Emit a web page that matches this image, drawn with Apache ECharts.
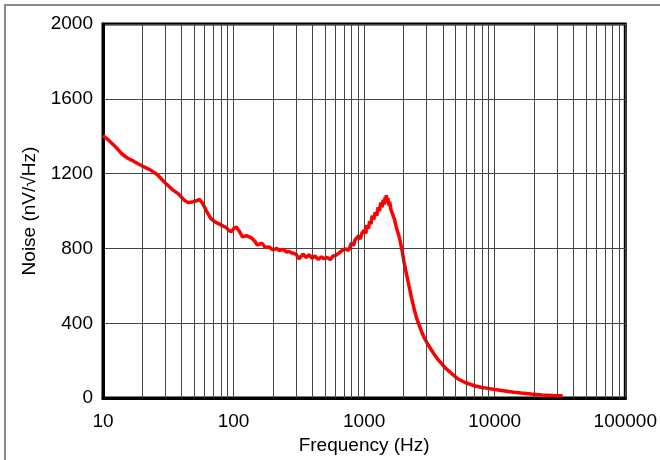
<!DOCTYPE html>
<html>
<head>
<meta charset="utf-8">
<script src="https://cdn.jsdelivr.net/npm/echarts@6/dist/echarts.min.js"></script>
<style>
  html, body { margin: 0; padding: 0; background: #fff; }
  #chart { width: 660px; height: 460px; }
</style>
</head>
<body>
<div id="chart"></div>
<script>
// frequency (Hz) and noise (nV/rtHz)
const freq = [10, 11, 12, 13, 14, 15.5, 17, 20, 23, 26, 30, 34, 38, 42, 45, 48, 52, 55, 58, 62,
  67, 72, 78, 84, 88, 92, 96, 100, 105, 110, 117, 125, 136, 145, 152, 157, 165, 175, 187, 200,
  215, 223, 240, 255, 266, 280, 300, 317, 340, 360, 378, 400, 420, 445, 470, 491, 520, 550, 580, 603,
  640, 680, 719, 760, 800, 830, 850, 880, 908, 935, 960, 1000, 1030, 1050, 1080, 1100, 1130, 1150, 1185, 1216,
  1250, 1280, 1310, 1340, 1370, 1400, 1425, 1449, 1465, 1480, 1500, 1520, 1545, 1570, 1600, 1629, 1700, 1780, 1860, 1942,
  2030, 2120, 2220, 2313, 2420, 2524, 2640, 2755, 2900, 3097, 3400, 3696, 4200, 4700, 5250,
  6000, 7000, 8000, 8890, 10000, 12000, 14000, 15900, 19000, 23000, 28000, 33100];
const noise = [1404, 1380, 1355, 1330, 1305, 1282, 1268, 1241, 1220, 1195, 1150, 1115, 1090, 1058, 1045, 1048, 1055, 1062, 1040, 1000,
  960, 942, 930, 918, 912, 895, 890, 905, 915, 895, 862, 868, 858, 840, 818, 812, 828, 805, 808, 792,
  800, 789, 795, 780, 784, 776, 770, 745, 770, 752, 766, 748, 760, 742, 755, 745, 752, 740, 760, 762,
  775, 790, 798, 790, 830, 815, 845, 835, 868, 850, 880, 898, 880, 925, 905, 945, 930, 975, 955, 993,
  975, 1020, 1000, 1045, 1020, 1060, 1035, 1075, 1050, 1085, 1045, 1070, 1030, 1050, 1010, 1000, 960, 904, 860, 798,
  720, 656, 590, 532, 475, 426, 390, 355, 320, 284, 240, 204, 160, 130, 102,
  82, 66, 57, 52, 46, 38, 31, 27, 22, 17, 14, 12];

const yTicks = [0, 400, 800, 1200, 1600, 2000];
// minor log grid lines (2..9 per decade)
const minorFreq = [];
[10, 100, 1000, 10000].forEach(d => {
  for (let k = 2; k <= 9; k++) minorFreq.push(d * k);
});

const chart = echarts.init(document.getElementById('chart'));
const font = 'Liberation Sans, Arial, sans-serif';

chart.setOption({
  animation: false,
  graphic: [{
    type: 'rect',
    shape: { x: 5, y: 5, width: 700, height: 500 },
    style: { fill: 'none', stroke: '#888', lineWidth: 2 },
    silent: true
  }],
  grid: {
    left: 103, right: 31, top: 24, bottom: 60,
    show: true, borderColor: '#000', borderWidth: 3, backgroundColor: 'transparent'
  },
  xAxis: {
    type: 'log', logBase: 10, min: 10, max: 100000,
    name: 'Frequency (Hz)', nameLocation: 'middle', nameGap: 36,
    nameTextStyle: { fontFamily: font, fontSize: 19, color: '#000' },
    axisLine: { lineStyle: { color: '#000', width: 3 } },
    axisTick: { show: false },
    axisLabel: { fontFamily: font, fontSize: 19, color: '#000', margin: 14,
      formatter: v => String(Math.round(v)) },
    splitLine: { show: true, lineStyle: { color: '#444', width: 1 } },
    minorTick: { show: false }, minorSplitLine: { show: false }
  },
  yAxis: {
    type: 'value', min: yTicks[0], max: yTicks[yTicks.length - 1], interval: 400,
    name: 'Noise (nV/√Hz)', nameLocation: 'middle', nameGap: 64,
    nameTextStyle: { fontFamily: font, fontSize: 19, color: '#000' },
    axisLine: { show: true, lineStyle: { color: '#000', width: 3 } },
    axisTick: { show: false },
    axisLabel: { fontFamily: font, fontSize: 19, color: '#000', margin: 10,
      formatter: v => String(v) },
    splitLine: { show: true, lineStyle: { color: '#444', width: 1 } }
  },
  series: [{
    type: 'line',
    data: [],
    z: 1,
    markLine: {
      silent: true, symbol: 'none', animation: false,
      label: { show: false },
      lineStyle: { color: '#444', width: 1, type: 'solid' },
      data: minorFreq.map(f => ({ xAxis: f }))
    }
  }, {
    type: 'line',
    z: 3,
    data: freq.map((f, i) => [f, noise[i]]),
    showSymbol: false,
    lineStyle: { color: '#ff0000', width: 3.5 },
    itemStyle: { color: '#ff0000' }
  }]
});
</script>
</body>
</html>
